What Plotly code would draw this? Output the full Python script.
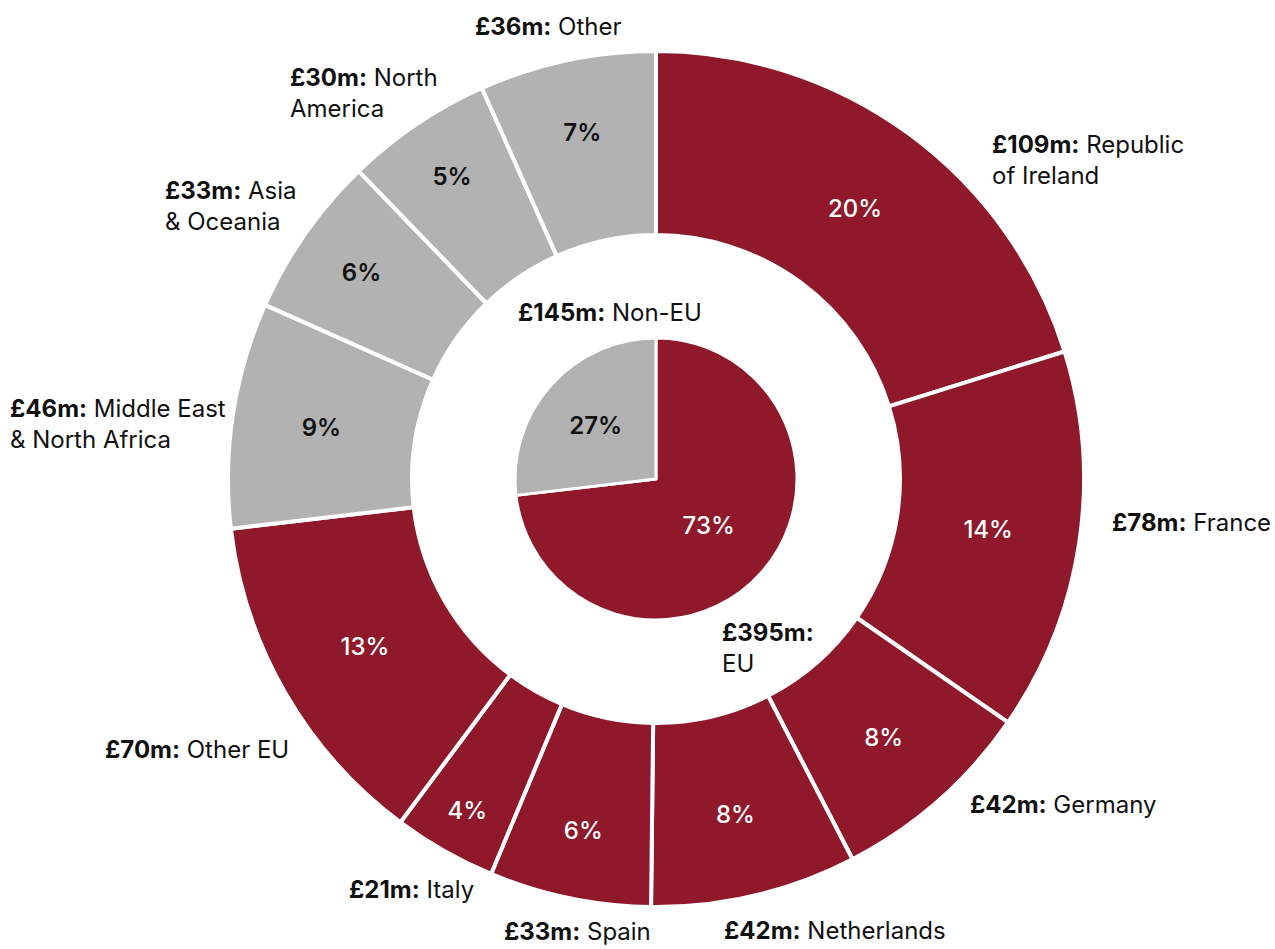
import plotly.graph_objects as go

# ---- data ----
regions = ["Republic of Ireland", "France", "Germany", "Netherlands", "Spain", "Italy",
           "Other EU", "Middle East & North Africa", "Asia & Oceania", "North America", "Other"]
region_values = [109, 78, 42, 42, 33, 21, 70, 46, 33, 30, 36]
region_pct = ["20%", "14%", "8%", "8%", "6%", "4%", "13%", "9%", "6%", "5%", "7%"]
region_group = ["EU", "EU", "EU", "EU", "EU", "EU", "EU", "Non-EU", "Non-EU", "Non-EU", "Non-EU"]

groups = ["EU", "Non-EU"]
group_values = [395, 145]
group_pct = ["73%", "27%"]

MAROON = "#8F182B"
GREY = "#B2B2B2"
colour = {"EU": MAROON, "Non-EU": GREY}
txtcol = {"EU": "white", "Non-EU": "#111111"}
txtweight = {"EU": 500, "Non-EU": 600}

W, H = 1275, 949
CX, CY, R = 656, 479, 428
R_IN = 141
FONT = "Inter"

fig = go.Figure()

fig.add_trace(go.Pie(
    labels=regions, values=region_values, text=region_pct, textinfo="text",
    sort=False, direction="clockwise", rotation=0, hole=0.57,
    marker=dict(colors=[colour[g] for g in region_group], line=dict(color="white", width=4)),
    textfont=dict(family=FONT, size=24, color=[txtcol[g] for g in region_group],
                  weight=[txtweight[g] for g in region_group]),
    insidetextorientation="horizontal", textposition="inside",
    domain=dict(x=[(CX - R) / W, (CX + R) / W], y=[(H - CY - R) / H, (H - CY + R) / H]),
    showlegend=False, hoverinfo="label+value",
))

fig.add_trace(go.Pie(
    labels=groups, values=group_values, text=group_pct, textinfo="text",
    sort=False, direction="clockwise", rotation=0,
    marker=dict(colors=[colour[g] for g in groups], line=dict(color="white", width=3)),
    textfont=dict(family=FONT, size=24, color=[txtcol[g] for g in groups],
                  weight=[txtweight[g] for g in groups]),
    insidetextorientation="horizontal", textposition="inside",
    domain=dict(x=[(CX - R_IN) / W, (CX + R_IN) / W], y=[(H - CY - R_IN) / H, (H - CY + R_IN) / H]),
    showlegend=False, hoverinfo="label+value",
))

def lab(v, name):
    return f"<b>£{v}m:</b> {name}"

labels_out = [
    (lab(109, "Republic<br>of Ireland"), 990, 160),
    (lab(78, "France"), 1110, 522),
    (lab(42, "Germany"), 968, 804),
    (lab(42, "Netherlands"), 722, 930),
    (lab(33, "Spain"), 502, 931),
    (lab(21, "Italy"), 347, 889),
    (lab(70, "Other EU"), 103, 749),
    (lab(46, "Middle East<br>& North Africa"), 8, 424),
    (lab(33, "Asia<br>& Oceania"), 163, 206),
    (lab(30, "North<br>America"), 288, 93),
    (lab(36, "Other"), 473, 26),
    (lab(145, "Non-EU"), 516, 313),
    (f"<b>£395m:</b><br>EU", 720, 648),
]

for txt, px, py in labels_out:
    fig.add_annotation(
        text=txt, x=px / W, y=1 - py / H, xref="paper", yref="paper",
        xanchor="left", yanchor="middle", align="left", showarrow=False,
        font=dict(family=FONT, size=24, color="#111111"),
    )

fig.update_layout(
    width=W, height=H, margin=dict(l=0, r=0, t=0, b=0),
    paper_bgcolor="white", plot_bgcolor="white",
    font=dict(family=FONT),
)

fig.write_html("out.html", config={"displayModeBar": False},
               post_script="document.body.style.margin='0';document.body.style.overflow='hidden';")
